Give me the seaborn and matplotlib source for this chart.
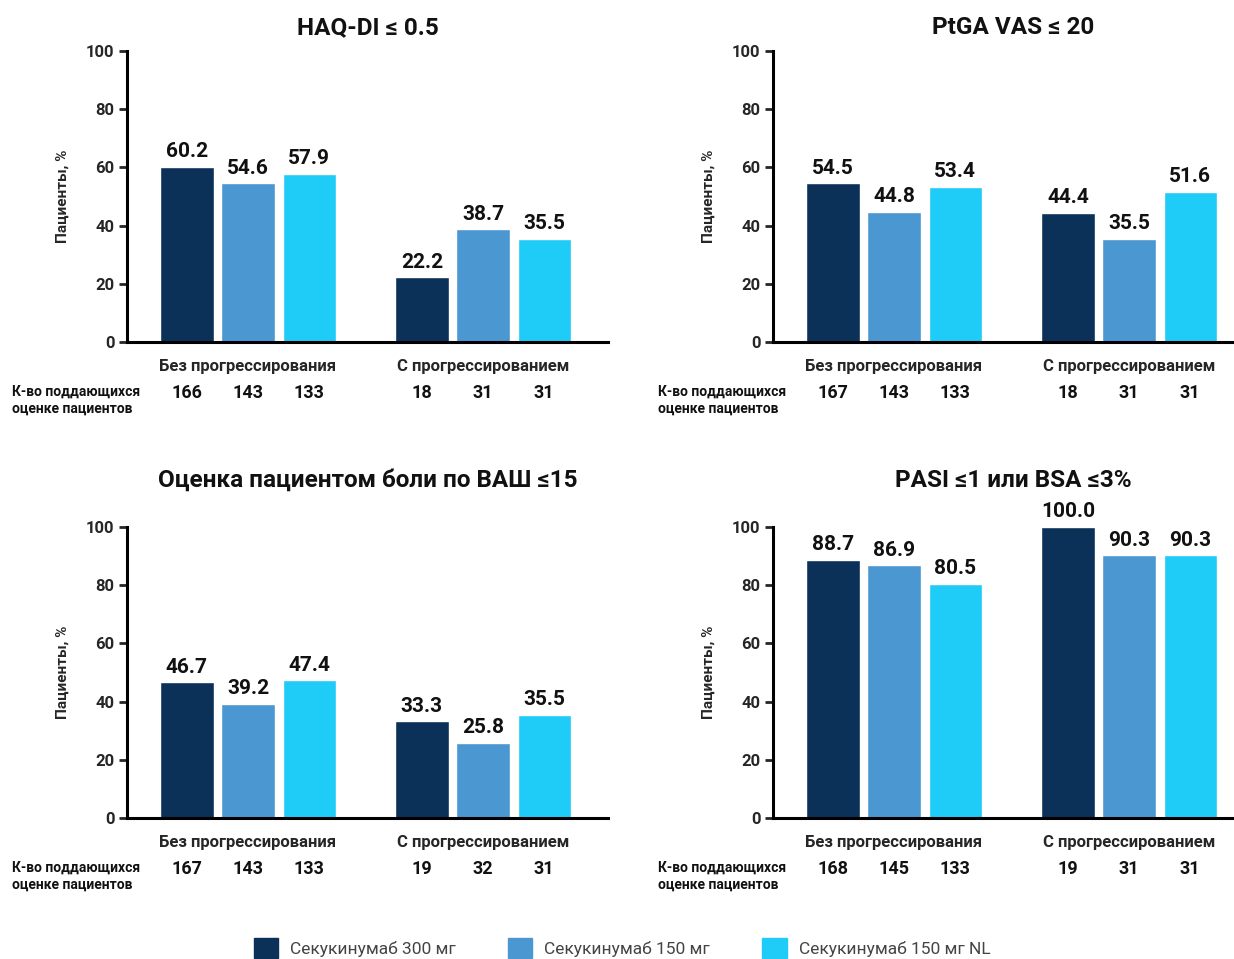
import pandas as pd
import matplotlib.pyplot as plt
import matplotlib.patches as mpatches
import seaborn as sns

# данные
groups = ["Без прогрессирования", "С прогрессированием"]
treatments = ["Секукинумаб 300 мг", "Секукинумаб 150 мг", "Секукинумаб 150 мг NL"]
colors = ["#0b3159", "#4a97d2", "#1fcbf7"]

titles = ["HAQ-DI ≤ 0.5", "PtGA VAS ≤ 20",
          "Оценка пациентом боли по ВАШ ≤15", "PASI ≤1 или BSA ≤3%"]

# значения: [группа][препарат]
haq_vals = [[60.2, 54.6, 57.9], [22.2, 38.7, 35.5]]
ptga_vals = [[54.5, 44.8, 53.4], [44.4, 35.5, 51.6]]
pain_vals = [[46.7, 39.2, 47.4], [33.3, 25.8, 35.5]]
pasi_vals = [[88.7, 86.9, 80.5], [100.0, 90.3, 90.3]]

haq_n = [[166, 143, 133], [18, 31, 31]]
ptga_n = [[167, 143, 133], [18, 31, 31]]
pain_n = [[167, 143, 133], [19, 32, 31]]
pasi_n = [[168, 145, 133], [19, 31, 31]]

panel_vals = [haq_vals, ptga_vals, pain_vals, pasi_vals]
panel_n = [haq_n, ptga_n, pain_n, pasi_n]

sns.set_style("white")
plt.rcParams["font.family"] = ["Roboto", "DejaVu Sans"]

W, H = 1234, 959
fig = plt.figure(figsize=(W / 100, H / 100), dpi=100)

# положение панелей в пикселях (смещения)
offsets = [(0, 0), (646, 0), (0, 476), (646, 476)]


def px(x, y):
    return x / W, 1 - y / H


def make_df(vals):
    rows = []
    for g, gname in enumerate(groups):
        for t, tname in enumerate(treatments):
            rows.append({"group": gname, "treat": tname, "value": vals[g][t]})
    return pd.DataFrame(rows)


for i in range(4):
    dx, dy = offsets[i]
    left = 127 + dx
    right = min(608 + dx, 1233)
    bottom = 342 + dy
    top = 51 + dy
    ax = fig.add_axes([left / W, 1 - bottom / H, (right - left) / W, (bottom - top) / H])
    df = make_df(panel_vals[i])
    sns.barplot(data=df, x="group", y="value", hue="treat", hue_order=treatments,
                palette=colors, width=0.78, gap=0.13, legend=False, ax=ax,
                saturation=1)
    ax.set_xlim(-0.515, -0.515 + (right - left) / 235)
    ax.set_ylim(0, 100)
    ax.set_yticks([0, 20, 40, 60, 80, 100])
    sns.despine(ax=ax)
    for s in ["left", "bottom"]:
        ax.spines[s].set_linewidth(2.2)
        ax.spines[s].set_color("black")
    ax.tick_params(axis="y", length=6, width=2, labelsize=12, pad=3, left=True)
    ax.tick_params(axis="x", length=0, labelsize=12, pad=12)
    for lab in ax.get_xticklabels() + ax.get_yticklabels():
        lab.set_fontweight("bold")
    ax.set_xlabel("")
    ax.set_ylabel("Пациенты, %", fontsize=11, fontweight="bold", labelpad=12)

    # подписи значений и числа пациентов
    for t, cont in enumerate(ax.containers):
        ax.bar_label(cont, fmt="%.1f", padding=4, fontsize=15,
                     fontweight="bold", color="#111111", clip_on=False)
        for g, bar in enumerate(cont):
            cx = bar.get_x() + bar.get_width() / 2
            ax.text(cx, -0.175, str(panel_n[i][g][t]), transform=ax.get_xaxis_transform(),
                    ha="center", va="center", fontsize=13, fontweight="bold",
                    color="#111111")

    fig.text(*px(12 + dx, 392 + dy), "К-во поддающихся", ha="left", va="center",
             fontsize=10, fontweight="bold", color="#111111")
    fig.text(*px(12 + dx, 409 + dy), "оценке пациентов", ha="left", va="center",
             fontsize=10, fontweight="bold", color="#111111")

    title_y = 28 if i < 2 else 480
    tx = (127 + 608) / 2 + dx
    fig.text(*px(tx, title_y), titles[i], ha="center", va="center",
             fontsize=17.5, fontweight="bold", color="#111111")

# легенда
handles = [mpatches.Patch(color=c, label=t) for c, t in zip(colors, treatments)]
fig.legend(handles=handles, loc="center", bbox_to_anchor=px(622, 948), ncol=3,
           frameon=False, fontsize=12.5, handlelength=1.4, handleheight=1.4,
           handletextpad=0.7, columnspacing=3.0, labelcolor="#444444")

fig.savefig("out.png", dpi=100)
